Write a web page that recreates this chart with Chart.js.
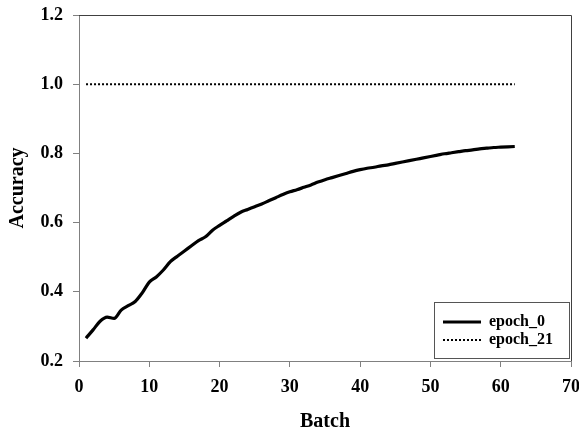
<!DOCTYPE html>
<html>
<head>
<meta charset="utf-8">
<script src="https://cdn.jsdelivr.net/npm/chart.js@4/dist/chart.umd.min.js"></script>
<style>
html,body{margin:0;padding:0;background:#fff;}
#wrap{width:579px;height:434px;position:relative;}
</style>
</head>
<body>
<div id="wrap"><canvas id="c" width="579" height="434"></canvas></div>
<script>
const batches = [1,2,3,4,5,6,7,8,9,10,11,12,13,14,15,16,17,18,19,20,21,22,23,24,25,26,27,28,29,30,31,32,33,34,35,36,37,38,39,40,41,42,43,44,45,46,47,48,49,50,51,52,53,54,55,56,57,58,59,60,61,62];
const epoch0 = [0.266,0.29,0.315,0.327,0.323,0.347,0.36,0.372,0.397,0.428,0.443,0.463,0.487,0.503,0.518,0.533,0.548,0.559,0.578,0.592,0.605,0.618,0.63,0.638,0.646,0.654,0.663,0.672,0.681,0.689,0.695,0.702,0.709,0.717,0.724,0.73,0.736,0.742,0.748,0.753,0.757,0.76,0.764,0.767,0.771,0.775,0.779,0.783,0.787,0.791,0.795,0.799,0.802,0.805,0.808,0.81,0.813,0.815,0.817,0.818,0.819,0.82];
const epoch21 = [1,1,1,1,1,1,1,1,1,1,1,1,1,1,1,1,1,1,1,1,1,1,1,1,1,1,1,1,1,1,1,1,1,1,1,1,1,1,1,1,1,1,1,1,1,1,1,1,1,1,1,1,1,1,1,1,1,1,1,1,1,1];
const seriesNames = ['epoch_0','epoch_21'];
const xTicks = [0,10,20,30,40,50,60,70];
const yTicks = [0.2,0.4,0.6,0.8,1.0,1.2];

const FONT = '"Liberation Serif","Times New Roman",serif';

const boxPlugin = {
  id: 'boxPlugin',
  afterDraw(chart) {
    const ctx = chart.ctx, a = chart.chartArea;
    ctx.save();
    ctx.strokeStyle = '#404040';
    ctx.lineWidth = 1;
    ctx.beginPath();
    ctx.moveTo(a.left, a.top + 0.5);
    ctx.lineTo(a.right + 0.5, a.top + 0.5);
    ctx.lineTo(a.right + 0.5, a.bottom);
    ctx.stroke();
    // legend
    const lx = 434, ly = 302, lw = 135, lh = 56;
    ctx.fillStyle = '#fff';
    ctx.fillRect(lx, ly, lw, lh);
    ctx.strokeStyle = '#555';
    ctx.strokeRect(lx + 0.5, ly + 0.5, lw, lh);
    ctx.font = 'bold 16px ' + FONT;
    ctx.textBaseline = 'middle';
    ctx.fillStyle = '#000';
    const rows = [322, 340];
    chart.data.datasets.forEach((ds, i) => {
      const y = rows[i];
      ctx.save();
      ctx.strokeStyle = ds.borderColor;
      ctx.lineWidth = ds.borderWidth;
      ctx.setLineDash(ds.borderDash || []);
      ctx.beginPath();
      ctx.moveTo(443, y);
      ctx.lineTo(481, y);
      ctx.stroke();
      ctx.restore();
      ctx.fillText(ds.label, 489, y);
    });
    ctx.restore();
  }
};

new Chart(document.getElementById('c'), {
  type: 'line',
  data: {
    datasets: [
      { label: seriesNames[0], data: batches.map((b, i) => ({x: b, y: epoch0[i]})),
        borderColor: '#000', borderWidth: 3.2, pointRadius: 0, tension: 0.4, cubicInterpolationMode: 'monotone', fill: false },
      { label: seriesNames[1], data: batches.map((b, i) => ({x: b, y: epoch21[i]})),
        borderColor: '#000', borderWidth: 2, borderDash: [2, 2], pointRadius: 0, fill: false }
    ]
  },
  options: {
    responsive: false,
    animation: false,
    layout: { padding: { left: 0, right: 8, top: 15, bottom: 0 } },
    plugins: { legend: { display: false }, tooltip: { enabled: false } },
    scales: {
      x: {
        type: 'linear', min: 0, max: 70,
        afterBuildTicks(s) { s.ticks = xTicks.map(v => ({value: v})); },
        afterFit(s) { s.height = 73; s.paddingLeft = 0; s.paddingRight = 0; },
        grid: { drawOnChartArea: false, tickLength: 6, color: '#808080' },
        border: { color: '#808080', width: 1 },
        ticks: { maxRotation: 0, padding: 10, color: '#000', font: { family: FONT, size: 18, weight: 'bold' } },
        title: { display: true, text: 'Batch', color: '#000', padding: { top: 0, bottom: 0 }, font: { family: FONT, size: 20, weight: 'bold' } }
      },
      y: {
        min: 0.2, max: 1.2,
        afterBuildTicks(s) { s.ticks = yTicks.map(v => ({value: v})); },
        afterFit(s) { s.width = 79; s.paddingTop = 0; s.paddingBottom = 0; },
        grid: { drawOnChartArea: false, tickLength: 6, color: '#808080' },
        border: { color: '#808080', width: 1 },
        ticks: { padding: 10, color: '#000', font: { family: FONT, size: 18, weight: 'bold' }, callback: v => v.toFixed(1) },
        title: { display: true, text: 'Accuracy', color: '#000', padding: { top: 6, bottom: 0 }, font: { family: FONT, size: 20, weight: 'bold' } }
      }
    }
  },
  plugins: [boxPlugin]
});
</script>
</body>
</html>
